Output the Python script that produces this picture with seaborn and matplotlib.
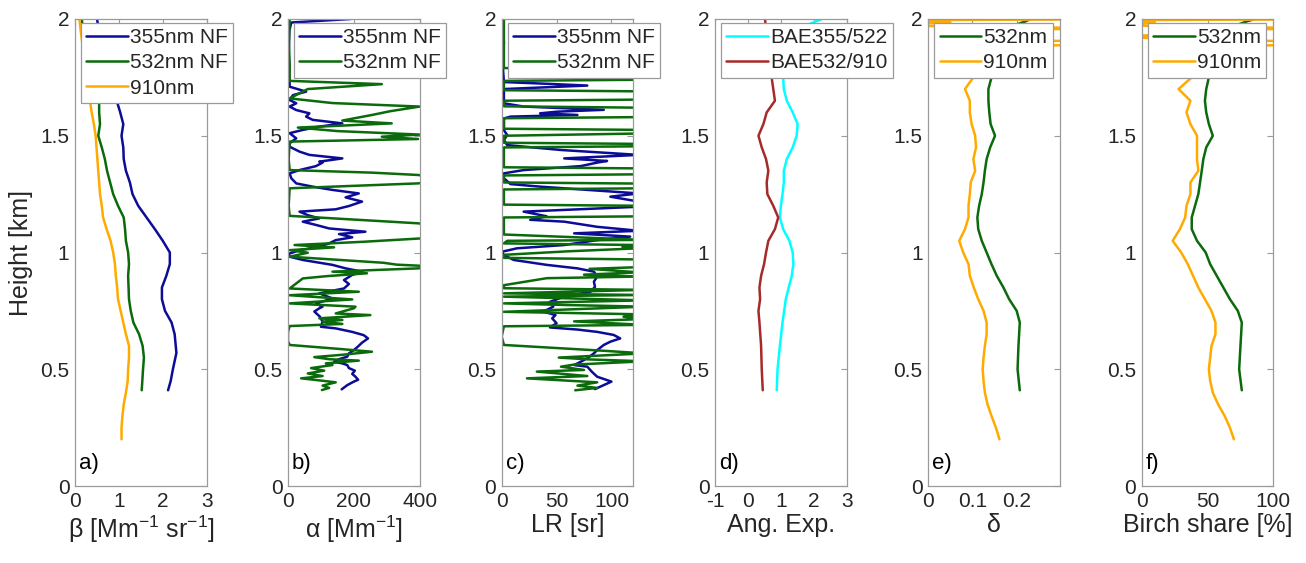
import matplotlib
matplotlib.use("Agg")
import matplotlib.pyplot as plt
import seaborn as sns

sns.set_theme(style="white")
plt.rcParams["font.family"] = ["Liberation Sans", "DejaVu Sans"]
plt.rcParams["mathtext.fontset"] = "custom"
plt.rcParams["mathtext.rm"] = "Liberation Sans"
plt.rcParams["mathtext.it"] = "Liberation Sans:italic"

# ---------------- data ----------------
# panel a: backscatter coefficient
h_b355 = [0.41, 0.45, 0.5, 0.57, 0.65, 0.7, 0.75, 0.8, 0.85, 0.9, 0.95, 1.0, 1.05, 1.1, 1.15, 1.2, 1.25,
          1.3, 1.35, 1.4, 1.45, 1.5, 1.55, 1.6, 1.65, 1.75, 1.85, 1.95, 2.0]
beta355 = [2.12, 2.18, 2.23, 2.31, 2.27, 2.20, 2.05, 1.98, 1.98, 2.08, 2.16, 2.16, 2.0, 1.82, 1.63, 1.44, 1.31,
           1.25, 1.16, 1.11, 1.10, 1.06, 1.10, 1.03, 0.95, 0.85, 0.72, 0.55, 0.5]
h_b532 = [0.41, 0.5, 0.55, 0.6, 0.65, 0.7, 0.75, 0.8, 0.9, 0.95, 1.0, 1.05, 1.1, 1.15, 1.2, 1.25, 1.3, 1.35,
          1.4, 1.45, 1.5, 1.55, 1.6, 1.65, 1.75, 1.85, 1.95, 2.0]
beta532 = [1.52, 1.55, 1.57, 1.54, 1.46, 1.33, 1.27, 1.23, 1.21, 1.23, 1.21, 1.16, 1.14, 1.11, 0.98, 0.87, 0.80,
           0.73, 0.68, 0.61, 0.53, 0.57, 0.55, 0.55, 0.45, 0.32, 0.2, 0.15]
h_b910 = [0.2, 0.25, 0.3, 0.35, 0.4, 0.45, 0.5, 0.55, 0.6, 0.65, 0.7, 0.75, 0.8, 0.85, 0.9, 0.95, 1.0, 1.05,
          1.1, 1.15, 1.2, 1.25, 1.3, 1.35, 1.4, 1.45, 1.5, 1.55, 1.6, 1.65, 1.75, 1.85, 1.95, 2.0]
beta910 = [1.06, 1.06, 1.08, 1.11, 1.16, 1.20, 1.21, 1.23, 1.23, 1.16, 1.10, 1.04, 0.98, 0.96, 0.93, 0.91, 0.87,
           0.81, 0.72, 0.64, 0.61, 0.57, 0.55, 0.53, 0.51, 0.49, 0.47, 0.43, 0.38, 0.34, 0.27, 0.2, 0.13, 0.1]

# panel b: extinction coefficient
h_a355 = [0.414, 0.432, 0.447, 0.455, 0.468, 0.48, 0.494, 0.505, 0.518, 0.525, 0.532, 0.543, 0.554, 0.568,
          0.582, 0.598, 0.614, 0.632, 0.646, 0.66, 0.675, 0.682, 0.704, 0.725, 0.747, 0.761, 0.768, 0.782,
          0.803, 0.825, 0.846, 0.865, 0.882, 0.904, 0.918, 0.932, 0.947, 0.968, 0.982, 0.993, 1.010, 1.022,
          1.039, 1.053, 1.065, 1.079, 1.089, 1.103, 1.118, 1.132, 1.146, 1.160, 1.175, 1.185, 1.199, 1.218,
          1.236, 1.253, 1.268, 1.282, 1.296, 1.318, 1.339, 1.353, 1.370, 1.385, 1.389, 1.403, 1.418, 1.432,
          1.453, 1.468, 1.489, 1.511, 1.525, 1.539, 1.553, 1.568, 1.582, 1.596, 1.610, 1.625, 1.639, 1.653,
          1.674, 1.689, 1.710, 1.724, 1.76, 1.80, 1.85, 1.90, 1.95, 1.985, 2.0]
alpha355 = [163, 180, 200, 213, 205, 195, 203, 185, 180, 165, 140, 155, 180, 185, 200, 213, 225, 243, 230, 195,
            145, 100, 105, 97, 80, 95, 105, 85, 135, 95, 170, 185, 170, 195, 225, 175, 135, 45, 5, 0, 35, 85,
            125, 145, 195, 155, 235, 125, 85, 45, 95, 60, 35, 145, 185, 225, 175, 215, 135, 75, 25, 10, 5, 35,
            85, 105, 95, 165, 65, 35, 5, 5, 25, 5, 45, 95, 165, 75, 55, 65, 25, 5, 25, 5, 15, 55, 5, 5, 3, 4,
            2, 3, 4, 10, 190]
h_a532 = [0.411, 0.42, 0.43, 0.444, 0.454, 0.461, 0.471, 0.482, 0.494, 0.505, 0.518, 0.525, 0.537, 0.543,
          0.552, 0.562, 0.575, 0.586, 0.604, 0.62, 0.66, 0.685, 0.694, 0.704, 0.711, 0.718, 0.732, 0.739,
          0.761, 0.768, 0.782, 0.799, 0.817, 0.832, 0.846, 0.889, 0.899, 0.911, 0.918, 0.932, 0.94, 0.948,
          0.956, 0.982, 0.999, 1.010, 1.022, 1.032, 1.046, 1.060, 1.09, 1.125, 1.139, 1.157, 1.2, 1.275,
          1.296, 1.31, 1.332, 1.342, 1.353, 1.40, 1.475, 1.486, 1.496, 1.505, 1.52, 1.535, 1.553, 1.565,
          1.589, 1.605, 1.625, 1.64, 1.66, 1.70, 1.721, 1.735, 1.80, 1.90, 2.0]
alpha532 = [103, 125, 105, 145, 85, 40, 105, 60, 110, 70, 135, 115, 215, 125, 80, 165, 255, 165, 5, 0, 0, 5,
            165, 105, 165, 95, 250, 145, 200, 205, 5, 195, 5, 215, 5, 45, 120, 240, 135, 395, 450, 330, 290,
            5, 60, 5, 140, 20, 230, 400, 600, 395, 225, 5, 2, 5, 395, 500, 395, 255, 5, 2, 5, 395, 285, 400,
            150, 30, 315, 165, 255, 310, 400, 135, 5, 60, 285, 5, 5, 3, 5]

# panel c: lidar ratio
h_lr355 = [0.415, 0.43, 0.447, 0.468, 0.49, 0.511, 0.518, 0.532, 0.547, 0.568, 0.582, 0.604, 0.618, 0.632,
           0.647, 0.66, 0.67, 0.679, 0.697, 0.718, 0.732, 0.747, 0.768, 0.789, 0.811, 0.832, 0.853, 0.875,
           0.897, 0.918, 0.932, 0.947, 0.968, 0.989, 1.003, 1.018, 1.032, 1.053, 1.068, 1.082, 1.093, 1.11,
           1.132, 1.14, 1.155, 1.175, 1.196, 1.218, 1.239, 1.253, 1.282, 1.293, 1.318, 1.339, 1.353, 1.37,
           1.385, 1.392, 1.403, 1.418, 1.439, 1.46, 1.482, 1.503, 1.524, 1.574, 1.582, 1.589, 1.596, 1.603,
           1.611, 1.625, 1.639, 1.70, 1.715, 1.722, 1.73, 1.80, 1.90, 1.97, 2.0]
lr355 = [85, 92, 100, 87, 82, 78, 66, 72, 78, 84, 87, 93, 99, 108, 102, 87, 69, 44, 50, 46, 49, 38, 47, 44,
         57, 81, 85, 84, 87, 84, 69, 41, 11, 2, 0, 14, 57, 87, 117, 66, 125, 87, 57, 26, 41, 20, 125, 125, 99,
         125, 35, 8, 2, 2, 20, 72, 87, 96, 57, 125, 54, 5, 2, 5, 2, 2, 8, 69, 35, 50, 93, 20, 2, 2, 78, 44, 2,
         1, 2, 1, 2]
h_lr532 = [0.41, 0.42, 0.43, 0.444, 0.461, 0.471, 0.49, 0.497, 0.511, 0.52, 0.534, 0.542, 0.55, 0.568, 0.58,
           0.604, 0.64, 0.684, 0.69, 0.705, 0.715, 0.725, 0.735, 0.746, 0.768, 0.775, 0.782, 0.795, 0.811,
           0.818, 0.825, 0.84, 0.847, 0.86, 0.89, 0.897, 0.905, 0.915, 0.93, 0.938, 0.97, 0.977, 0.99, 1.005,
           1.018, 1.025, 1.032, 1.039, 1.05, 1.054, 1.077, 1.15, 1.155, 1.20, 1.205, 1.27, 1.275, 1.295, 1.30,
           1.33, 1.335, 1.36, 1.365, 1.45, 1.455, 1.465, 1.47, 1.50, 1.51, 1.525, 1.53, 1.575, 1.58, 1.62,
           1.626, 1.65, 1.655, 1.69, 1.695, 1.735, 1.74, 1.78, 1.79, 1.90, 2.0]
lr532 = [67, 87, 69, 87, 23, 78, 32, 75, 54, 66, 130, 80, 52, 130, 90, 2, 0, 2, 130, 66, 130, 111, 130, 2,
         130, 60, 2, 130, 2, 130, 2, 130, 2, 2, 41, 125, 75, 125, 80, 130, 130, 2, 2, 60, 125, 110, 125, 2, 5,
         130, 2, 2, 130, 130, 2, 2, 130, 130, 2, 2, 130, 130, 2, 2, 130, 130, 2, 2, 130, 130, 2, 2, 130, 130,
         2, 2, 130, 130, 2, 2, 130, 130, 2, 2, 2]

# panel d: Angstrom exponents
h_ae1 = [0.41, 0.5, 0.6, 0.7, 0.8, 0.9, 0.95, 1.0, 1.05, 1.1, 1.15, 1.2, 1.25, 1.3, 1.35, 1.4, 1.45, 1.5,
         1.55, 1.6, 1.65, 1.7, 1.75, 1.85, 1.95, 1.98, 2.0]
bae355_522 = [0.875, 0.90, 0.97, 1.05, 1.15, 1.33, 1.38, 1.36, 1.26, 1.07, 0.97, 1.0, 1.05, 1.09, 1.09, 1.18,
              1.36, 1.48, 1.51, 1.36, 1.18, 1.09, 1.07, 1.2, 1.6, 1.9, 2.24]
h_ae2 = [0.41, 0.5, 0.6, 0.7, 0.75, 0.8, 0.85, 0.9, 0.95, 1.0, 1.05, 1.1, 1.15, 1.2, 1.25, 1.3, 1.35, 1.4,
         1.45, 1.5, 1.55, 1.6, 1.65, 1.7, 1.75, 1.85, 1.95, 2.0]
bae532_910 = [0.45, 0.42, 0.40, 0.35, 0.32, 0.37, 0.35, 0.40, 0.49, 0.55, 0.62, 0.82, 0.92, 0.77, 0.59, 0.57,
              0.62, 0.55, 0.42, 0.32, 0.47, 0.57, 0.82, 0.77, 0.72, 0.6, 0.55, 0.52]

# panel e: depolarization ratio ; panel f: birch share
h_d532 = [0.41, 0.5, 0.6, 0.7, 0.75, 0.8, 0.85, 0.9, 0.95, 1.0, 1.05, 1.1, 1.15, 1.2, 1.25, 1.3, 1.35, 1.4,
          1.45, 1.5, 1.55, 1.6, 1.65, 1.7, 1.75, 1.85, 1.95, 1.99, 2.0]
delta532 = [0.207, 0.202, 0.204, 0.207, 0.200, 0.183, 0.170, 0.155, 0.143, 0.132, 0.121, 0.113, 0.111, 0.115,
            0.121, 0.125, 0.128, 0.132, 0.140, 0.151, 0.141, 0.138, 0.136, 0.136, 0.143, 0.15, 0.16, 0.22, 0.232]
h_d910 = [0.2, 0.25, 0.3, 0.35, 0.4, 0.45, 0.5, 0.55, 0.6, 0.65, 0.7, 0.75, 0.8, 0.85, 0.9, 0.95, 1.0, 1.05,
          1.1, 1.15, 1.2, 1.25, 1.3, 1.35, 1.4, 1.45, 1.5, 1.55, 1.6, 1.65, 1.7, 1.75, 1.80, 1.88, 1.90, 1.91,
          1.925, 1.935, 1.955, 1.96, 1.965, 1.975, 1.985, 1.995, 2.0]
delta910 = [0.161, 0.153, 0.143, 0.134, 0.128, 0.125, 0.123, 0.125, 0.128, 0.132, 0.132, 0.125, 0.113, 0.103,
            0.094, 0.091, 0.079, 0.070, 0.083, 0.091, 0.091, 0.094, 0.096, 0.106, 0.102, 0.108, 0.106, 0.098,
            0.094, 0.094, 0.083, 0.102, 0.09, 0.11, 0.6, 0.12, 0.11, 0.11, 0.12, 0.6, 0.1, -0.1, 0.05, -0.05, 0.6]
share532 = [76, 74, 75, 76, 73, 67, 62, 57, 52, 48.6, 42, 38, 38, 40.5, 43, 44.3, 45.6, 46.8, 49, 54, 51, 49,
            48, 49, 51, 55, 60, 80, 86]
share910 = [70, 67, 63, 58, 54, 52, 51, 52, 53, 56, 56, 53, 48, 43, 39, 35, 30, 23.5, 29, 33, 34, 37, 37, 43,
            42, 42, 42, 37, 34, 37, 28, 38, 35, 40, 200, 40, -20, 30, 40, 200, 40, -20, 10, -20, 200]

# ---------------- style ----------------
C_BLUE = "#0c0c97"
C_GREEN = "#0b6a0b"
C_ORANGE = "#ffaa00"
C_CYAN = "#00ffff"
C_RED = "#a52a2a"
GRAY = "#9a9a9a"
TXT = "#262626"

W_PX, H_PX = 1306, 563
fig = plt.figure(figsize=(W_PX / 100, H_PX / 100), dpi=100)
lefts = [75, 288, 501.7, 715, 928.3, 1141.7]
aw, top, bot = 131.7, 19, 486
axes = [fig.add_axes([l / W_PX, (H_PX - bot) / H_PX, aw / W_PX, (bot - top) / H_PX]) for l in lefts]


def prof(ax, x, h, color, label):
    sns.lineplot(x=x, y=h, sort=False, estimator=None, ax=ax, color=color, lw=1.8, label=label)


prof(axes[0], beta355, h_b355, C_BLUE, "355nm NF")
prof(axes[0], beta532, h_b532, C_GREEN, "532nm NF")
prof(axes[0], beta910, h_b910, C_ORANGE, "910nm")
prof(axes[1], alpha355, h_a355, C_BLUE, "355nm NF")
prof(axes[1], alpha532, h_a532, C_GREEN, "532nm NF")
prof(axes[2], lr355, h_lr355, C_BLUE, "355nm NF")
prof(axes[2], lr532, h_lr532, C_GREEN, "532nm NF")
prof(axes[3], bae355_522, h_ae1, C_CYAN, "BAE355/522")
prof(axes[3], bae532_910, h_ae2, C_RED, "BAE532/910")
prof(axes[4], delta532, h_d532, C_GREEN, "532nm")
prof(axes[4], delta910, h_d910, C_ORANGE, "910nm")
prof(axes[5], share532, h_d532, C_GREEN, "532nm")
prof(axes[5], share910, h_d910, C_ORANGE, "910nm")

xlims = [(0, 3), (0, 400), (0, 120), (-1, 3), (0, 0.298), (0, 100)]
xticks = [[0, 1, 2, 3], [0, 200, 400], [0, 50, 100], [-1, 0, 1, 2, 3], [0, 0.1, 0.2], [0, 50, 100]]
xticklabels = [["0", "1", "2", "3"], ["0", "200", "400"], ["0", "50", "100"], ["-1", "0", "1", "2", "3"],
               ["0", "0.1", "0.2"], ["0", "50", "100"]]
xlabels = [r"β [Mm$^{\mathrm{-1}}$ sr$^{\mathrm{-1}}$]", r"α [Mm$^{\mathrm{-1}}$]", "LR [sr]", "Ang. Exp.",
           "δ", "Birch share [%]"]
letters = ["a)", "b)", "c)", "d)", "e)", "f)"]
yticks = [0, 0.5, 1, 1.5, 2]
yticklabels = ["0", "0.5", "1", "1.5", "2"]

for i, ax in enumerate(axes):
    ax.set_xlim(*xlims[i])
    ax.set_ylim(0, 2)
    ax.set_xticks(xticks[i])
    ax.set_xticklabels(xticklabels[i])
    ax.set_yticks(yticks)
    ax.set_yticklabels(yticklabels)
    ax.tick_params(direction="in", top=True, right=True, length=4, width=0.8, colors=GRAY,
                   labelcolor=TXT, labelsize=15, pad=4)
    for s in ax.spines.values():
        s.set_color(GRAY)
        s.set_linewidth(0.9)
        s.set_visible(True)
    ax.set_xlabel(xlabels[i], fontsize=18, color=TXT, labelpad=2)
    ax.set_ylabel("")
    ax.text(0.03, 0.025, letters[i], transform=ax.transAxes, fontsize=16, color="black", ha="left",
            va="bottom")
    leg = ax.legend(loc="upper left", bbox_to_anchor=(6 / aw, 1 - 4 / (bot - top)), borderaxespad=0,
                    fontsize=15, frameon=True, fancybox=False, framealpha=1, edgecolor=GRAY,
                    handlelength=2.0, handletextpad=0.1, borderpad=0.25, labelspacing=0.3)
    leg.get_frame().set_linewidth(0.9)
    for t in leg.get_texts():
        t.set_color(TXT)

axes[0].set_ylabel("Height [km]", fontsize=18, color=TXT, labelpad=5)

fig.savefig("out.png", dpi=100)
